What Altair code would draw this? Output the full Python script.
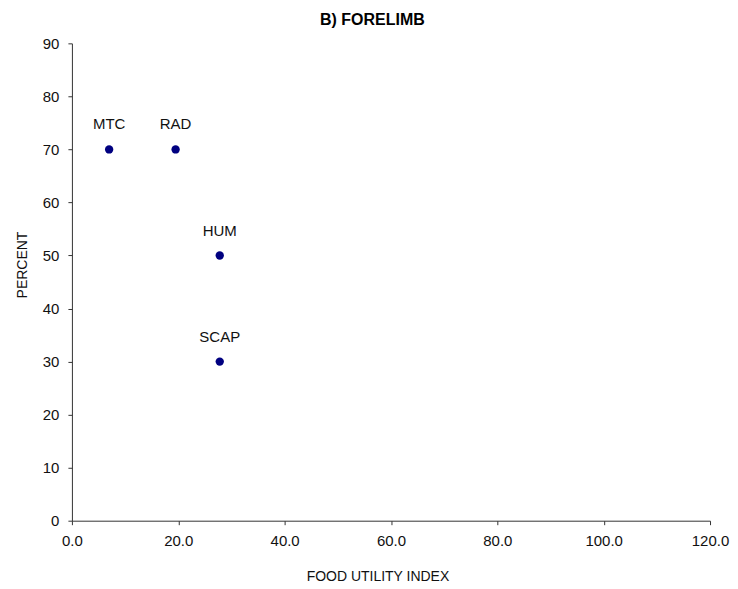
import altair as alt
import pandas as pd

labels = ["MTC", "RAD", "HUM", "SCAP"]
fui = [7.0, 19.5, 27.8, 27.8]
percent = [70, 70, 50, 30]

df = pd.DataFrame({"label": labels, "fui": fui, "percent": percent})

FONT = "Liberation Sans"

x = alt.X("fui:Q", scale=alt.Scale(domain=[0, 120], nice=False),
          axis=alt.Axis(values=[0, 20, 40, 60, 80, 100, 120], format=".1f",
                        title="FOOD UTILITY INDEX", labelFlush=False,
                        titleX=306, titleY=60, titleBaseline="alphabetic",
                        titleAlign="center"))
y = alt.Y("percent:Q", scale=alt.Scale(domain=[0, 90], nice=False),
          axis=alt.Axis(values=list(range(0, 100, 10)), title="PERCENT",
                        labelFlush=False, titleX=-45, titleY=221.5,
                        titleBaseline="alphabetic", titleAlign="center", titleAngle=270))

points = alt.Chart(df).mark_circle(size=70, color="#000080", opacity=1).encode(x=x, y=y)
text = alt.Chart(df).mark_text(dy=-20, baseline="alphabetic", font=FONT, fontSize=15,
                               color="#111111").encode(x=x, y=y, text="label:N")

chart = (points + text).properties(
    width=639, height=478,
    title=alt.TitleParams("B) FORELIMB", font=FONT, fontSize=16, fontWeight="bold",
                          color="#000000", anchor="middle", frame="bounds", offset=8),
    autosize=alt.AutoSizeParams(type="none"),
    padding={"left": 64, "top": 35, "right": 20, "bottom": 70},
).configure_view(stroke=None).configure_axis(
    grid=False, domainColor="#333333", tickColor="#333333", tickSize=4,
    labelFont=FONT, labelFontSize=15, labelColor="#111111", labelPadding=9,
    titleFont=FONT, titleFontSize=14, titleFontWeight="normal", titleColor="#111111",
)

chart.save("out.html", embed_options={"renderer": "svg", "actions": False})
